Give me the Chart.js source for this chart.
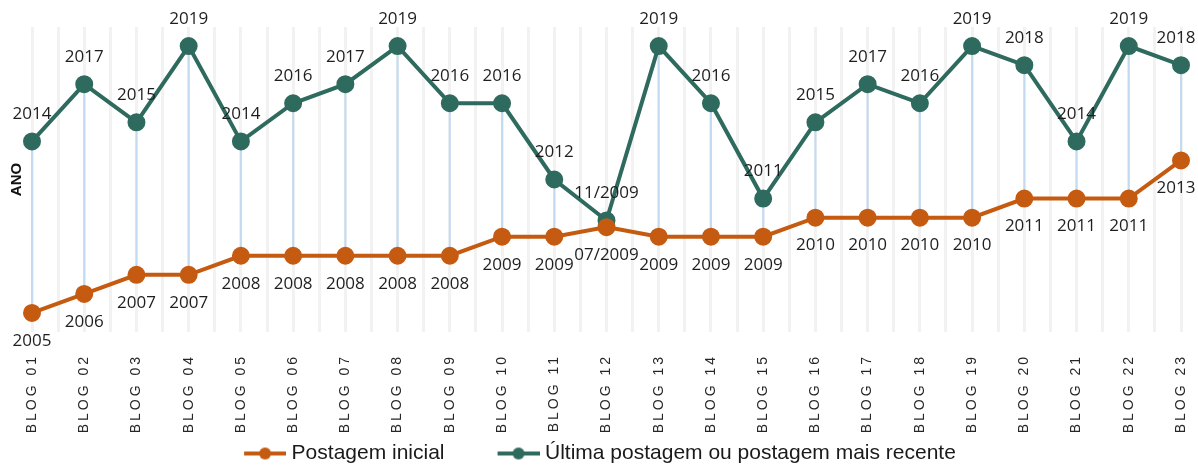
<!DOCTYPE html>
<html lang="pt-br">
<head>
<meta charset="utf-8">
<title>Postagens dos blogs</title>
<script src="https://cdn.jsdelivr.net/npm/chart.js@4.4.1/dist/chart.umd.min.js"></script>
<style>
    body { margin: 0; background: #fff; }
    .grafico { width: 1198px; height: 469px; }
</style>
</head>
<body>
<div class="grafico">
    <canvas id="blogChart"></canvas>
</div>
<script>
// dados
const blogs = ['BLOG 01', 'BLOG 02', 'BLOG 03', 'BLOG 04', 'BLOG 05', 'BLOG 06', 'BLOG 07', 'BLOG 08',
    'BLOG 09', 'BLOG 10', 'BLOG 11', 'BLOG 12', 'BLOG 13', 'BLOG 14', 'BLOG 15', 'BLOG 16',
    'BLOG 17', 'BLOG 18', 'BLOG 19', 'BLOG 20', 'BLOG 21', 'BLOG 22', 'BLOG 23']

const postagemInicial = [2005, 2006, 2007, 2007, 2008, 2008, 2008, 2008, 2008, 2009, 2009, 2009.5,
    2009, 2009, 2009, 2010, 2010, 2010, 2010, 2011, 2011, 2011, 2013]
const rotulosInicial = ['2005', '2006', '2007', '2007', '2008', '2008', '2008', '2008', '2008', '2009', '2009', '07/2009',
    '2009', '2009', '2009', '2010', '2010', '2010', '2010', '2011', '2011', '2011', '2013']

const ultimaPostagem = [2014, 2017, 2015, 2019, 2014, 2016, 2017, 2019, 2016, 2016, 2012, 2009.85,
    2019, 2016, 2011, 2015, 2017, 2016, 2019, 2018, 2014, 2019, 2018]
const rotulosUltima = ['2014', '2017', '2015', '2019', '2014', '2016', '2017', '2019', '2016', '2016', '2012', '11/2009',
    '2019', '2016', '2011', '2015', '2017', '2016', '2019', '2018', '2014', '2019', '2018']

const laranja = '#c55a11'
const verde = '#2e6a5e'
const larguraMarcador = 87

// marcador da legenda: linha com bolinha, encostado à direita
function marcador(cor) {
    const c = document.createElement('canvas')
    c.width = larguraMarcador + 10
    c.height = 14
    const g = c.getContext('2d')
    const x0 = c.width - 42
    g.strokeStyle = cor
    g.lineWidth = 4
    g.beginPath()
    g.moveTo(x0, 7)
    g.lineTo(c.width, 7)
    g.stroke()
    g.fillStyle = cor
    g.beginPath()
    g.arc(x0 + 21, 7, 6, 0, Math.PI * 2)
    g.fill()
    return c
}

// linhas azuis entre a postagem inicial e a última
const linhasMinMax = {
    id: 'linhasMinMax',
    beforeDatasetsDraw(chart) {
        const ctx = chart.ctx
        const a = chart.getDatasetMeta(0).data
        const b = chart.getDatasetMeta(1).data
        ctx.save()
        ctx.strokeStyle = '#c3daf0'
        ctx.lineWidth = 2
        a.forEach((ponto, i) => {
            ctx.beginPath()
            ctx.moveTo(ponto.x, ponto.y)
            ctx.lineTo(b[i].x, b[i].y)
            ctx.stroke()
        })
        ctx.restore()
    }
}

// rótulos dos valores
const rotulos = {
    id: 'rotulos',
    afterDatasetsDraw(chart) {
        const ctx = chart.ctx
        ctx.save()
        ctx.font = '17px "Open Sans"'
        ctx.fillStyle = '#1e1e1e'
        ctx.textAlign = 'center'
        ctx.textBaseline = 'middle'
        chart.getDatasetMeta(0).data.forEach((p, i) => {
            let x = Math.min(p.x, chart.width - 22)
            ctx.fillText(rotulosInicial[i], x, p.y + 28)
        })
        chart.getDatasetMeta(1).data.forEach((p, i) => {
            let x = Math.min(p.x, chart.width - 22)
            ctx.fillText(rotulosUltima[i], x, p.y - 27)
        })
        ctx.restore()
    }
}

// espaçamento entre letras nos nomes dos blogs
const espacoLetras = {
    id: 'espacoLetras',
    beforeDraw(chart) {
        const eixo = chart.scales.x
        if (eixo._espacado) return
        const original = eixo.drawLabels
        eixo.drawLabels = function (area) {
            this.ctx.save()
            this.ctx.letterSpacing = '3px'
            original.call(this, area)
            this.ctx.restore()
        }
        eixo._espacado = true
    }
}

const ctx = document.getElementById('blogChart').getContext('2d')

new Chart(ctx, {
    type: 'line',
    data: {
        labels: blogs,
        datasets: [{
            label: 'Postagem inicial',
            data: postagemInicial,
            borderColor: laranja,
            backgroundColor: laranja,
            borderWidth: 4,
            pointRadius: 7,
            pointHoverRadius: 7,
            tension: 0
        }, {
            label: 'Última postagem ou postagem mais recente',
            data: ultimaPostagem,
            borderColor: verde,
            backgroundColor: verde,
            borderWidth: 4,
            pointRadius: 7,
            pointHoverRadius: 7,
            tension: 0
        }]
    },
    options: {
        responsive: true,
        maintainAspectRatio: false,
        animation: false,
        layout: {
            // paddings negativos só para acertar a posição da legenda
            padding: { top: 27, right: 17, left: -31, bottom: -5 }
        },
        scales: {
            x: {
                grid: { color: '#f2f2f2', lineWidth: 3, drawTicks: false },
                border: { display: false },
                ticks: {
                    autoSkip: false,
                    minRotation: 90,
                    maxRotation: 90,
                    padding: 22,
                    color: '#262626',
                    font: { family: '"Liberation Sans", Arial', size: 14 }
                },
                afterFit(scale) {
                    scale.height = 108
                    scale.paddingLeft = 0
                    scale.paddingRight = 0
                }
            },
            x2: {
                type: 'category',
                labels: blogs,
                position: 'bottom',
                grid: { offset: true, color: '#f2f2f2', lineWidth: 3, drawTicks: false },
                border: { display: false },
                ticks: { display: false },
                afterFit(scale) {
                    scale.height = 0
                    scale.paddingLeft = 0
                    scale.paddingRight = 0
                }
            },
            y: {
                min: 2004,
                max: 2020,
                grid: { display: false },
                border: { display: false },
                ticks: { display: false },
                title: {
                    display: true,
                    text: 'ANO',
                    color: '#111',
                    padding: { top: 39, bottom: 0 },
                    font: { family: '"Liberation Sans", Arial', size: 15, weight: 'bold' }
                },
                afterFit(scale) { scale.width = 63 }
            }
        },
        plugins: {
            legend: {
                position: 'bottom',
                labels: {
                    usePointStyle: true,
                    pointStyleWidth: larguraMarcador,
                    padding: 3,
                    color: '#1a1a1a',
                    font: { family: '"Liberation Sans", Arial', size: 21 },
                    generateLabels(chart) {
                        return Chart.defaults.plugins.legend.labels.generateLabels(chart).map(item => {
                            item.pointStyle = marcador(item.strokeStyle)
                            return item
                        })
                    }
                }
            },
            tooltip: { enabled: false }
        }
    },
    plugins: [linhasMinMax, rotulos, espacoLetras]
})
</script>
</body>
</html>
